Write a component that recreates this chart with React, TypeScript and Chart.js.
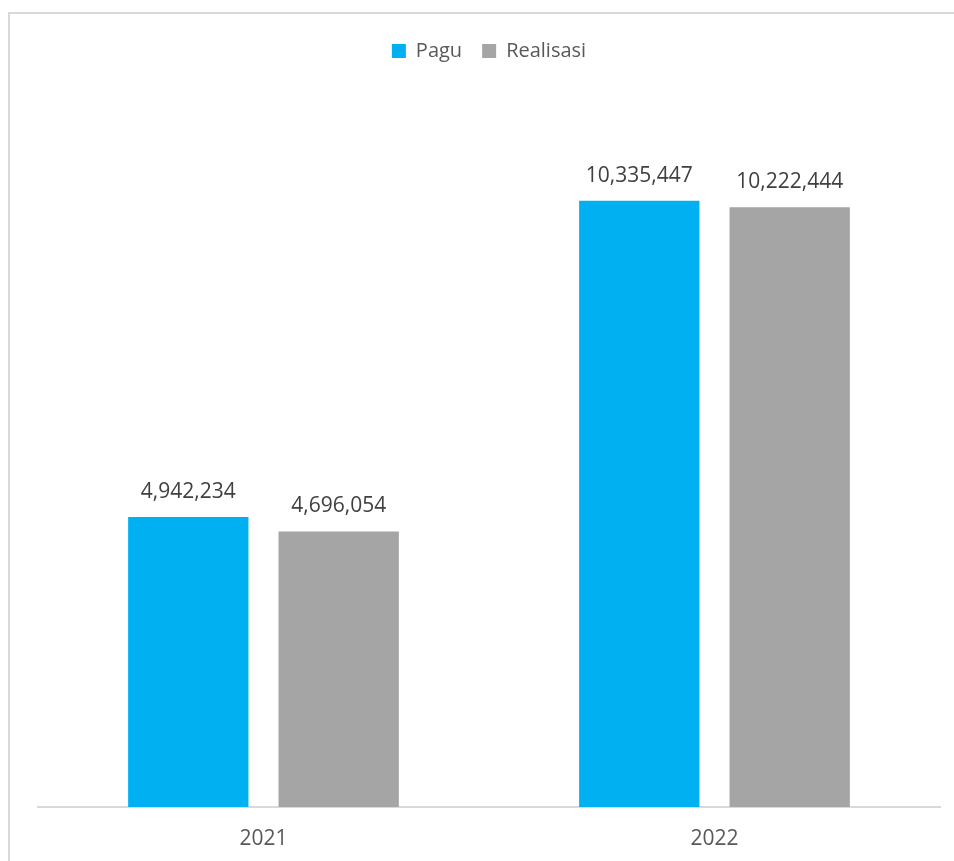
import React, { useEffect, useRef } from "react";
import { Chart, registerables } from "chart.js";

Chart.register(...registerables);

const categories = ["2021", "2022"];
const paguValues = [4942234, 10335447];
const realisasiValues = [4696054, 10222444];
const seriesNames = ["Pagu", "Realisasi"];

const FONT = "'Open Sans', 'Noto Sans', sans-serif";

const valueLabels = {
  id: "valueLabels",
  afterDatasetsDraw(chart: any) {
    const ctx = chart.ctx;
    ctx.save();
    ctx.font = `21px ${FONT}`;
    ctx.fillStyle = "#404040";
    ctx.textAlign = "center";
    ctx.textBaseline = "middle";
    chart.data.datasets.forEach((ds: any, i: number) => {
      const meta = chart.getDatasetMeta(i);
      meta.data.forEach((bar: any, j: number) => {
        const v = ds.data[j] as number;
        ctx.fillText(v.toLocaleString("en-US"), bar.x, bar.y - 25);
      });
    });
    ctx.restore();
  },
};

const legendGap = {
  id: "legendGap",
  beforeInit(chart: any) {
    const legend = chart.legend;
    if (!legend) return;
    const orig = legend.fit;
    legend.fit = function () {
      orig.bind(legend)();
      this.height += 32;
    };
  },
};

export default function App() {
  const ref = useRef<HTMLCanvasElement | null>(null);
  useEffect(() => {
    if (!ref.current) return;
    const chart = new Chart(ref.current, {
      type: "bar",
      data: {
        labels: categories,
        datasets: [
          {
            label: seriesNames[0],
            data: paguValues,
            backgroundColor: "#00B0F0",
            barPercentage: 0.8,
            categoryPercentage: 0.667,
          },
          {
            label: seriesNames[1],
            data: realisasiValues,
            backgroundColor: "#A5A5A5",
            barPercentage: 0.8,
            categoryPercentage: 0.667,
          },
        ],
      },
      options: {
        animation: false,
        responsive: false,
        maintainAspectRatio: false,
        layout: { padding: { left: 38, right: 14, top: 21, bottom: 0 } },
        plugins: {
          legend: {
            position: "top",
            labels: {
              boxWidth: 14,
              boxHeight: 14,
              color: "#595959",
              font: { family: FONT, size: 20 },
              padding: 20,
            },
          },
          tooltip: { enabled: false },
        },
        scales: {
          x: {
            grid: { display: false, drawTicks: false },
            border: { display: true, color: "#d9d9d9", width: 2 },
            ticks: {
              color: "#595959",
              font: { family: FONT, size: 21 },
              padding: 19,
            },
            afterFit(scale: any) {
              scale.height = 54;
            },
          },
          y: {
            display: false,
            min: 0,
            max: 12000000,
          },
        },
      },
      plugins: [valueLabels, legendGap],
    });
    return () => chart.destroy();
  }, []);
  return (
    <div style={{ position: "fixed", left: 0, top: 0, width: 954, height: 861, background: "#fff", overflow: "hidden" }}>
      <div
        style={{
          position: "absolute",
          left: 8,
          top: 12,
          width: 960,
          height: 870,
          border: "2px solid #d9d9d9",
          boxSizing: "border-box",
        }}
      />
      <canvas ref={ref} width={954} height={861} style={{ position: "absolute", left: 0, top: 0 }} />
    </div>
  );
}
